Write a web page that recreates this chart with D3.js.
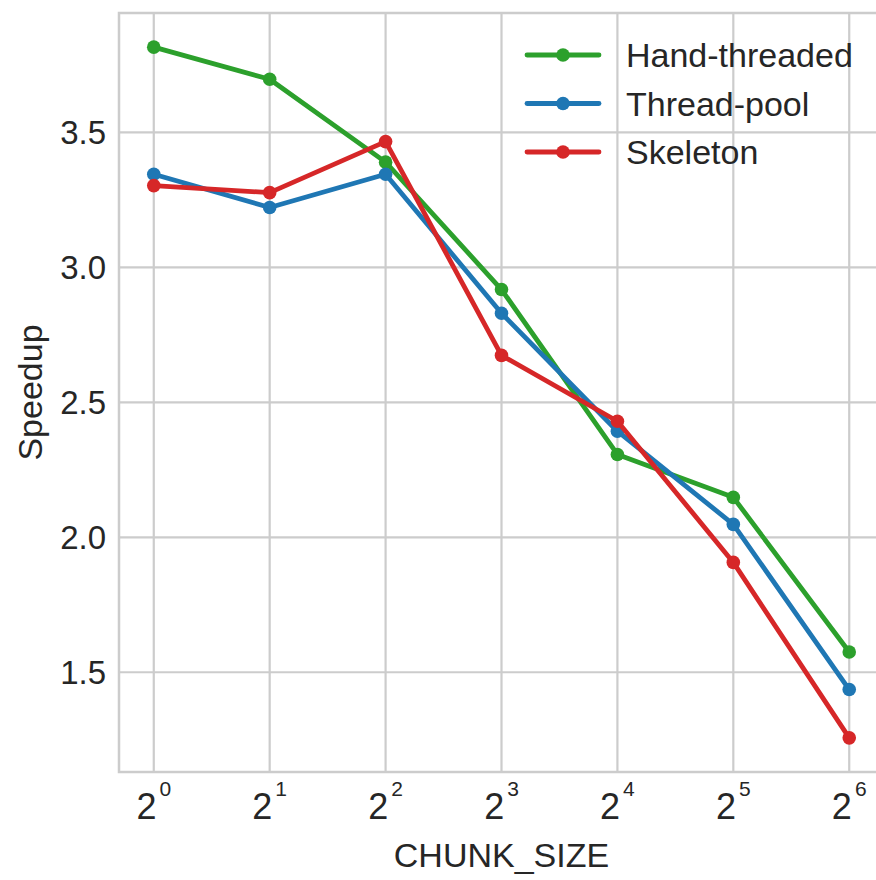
<!DOCTYPE html>
<html>
<head>
<meta charset="utf-8">
<script src="https://cdn.jsdelivr.net/npm/d3@7"></script>
<style>
  html, body { margin: 0; padding: 0; background: #fff; }
  svg { display: block; font-family: "Liberation Sans", Arial, sans-serif; }
</style>
</head>
<body>
<svg class="chart" width="876" height="880"></svg>
<script>
(function () {
    'use strict';

    // chunk sizes as powers of two
    var exponents = [0, 1, 2, 3, 4, 5, 6];
    var yTicks = [1.5, 2.0, 2.5, 3.0, 3.5];
    var handThreaded = [3.816, 3.697, 3.390, 2.918, 2.307, 2.148, 1.575];
    var threadPool = [3.345, 3.222, 3.345, 2.830, 2.393, 2.048, 1.436];
    var skeleton = [3.303, 3.277, 3.466, 2.674, 2.430, 1.907, 1.257];
    var seriesNames = ['Hand-threaded', 'Thread-pool', 'Skeleton'];
    var seriesColors = ['#2ca02c', '#1f77b4', '#d62728'];

    var series = [handThreaded, threadPool, skeleton].map(function (vals, i) {
        return {name: seriesNames[i], color: seriesColors[i], values: vals};
    });

    var left = 119, right = 884, top = 13, bottom = 772, grid = '#cccccc';

    var x = d3.scaleLinear().domain([-0.3, 6.3]).range([left, right]);
    var y = d3.scaleLinear().domain([1.1305, 3.9425]).range([bottom, top]);

    var svg = d3.select('.chart');

    // grid
    svg.append('g').selectAll('line').data(exponents).enter().append('line')
        .attr('x1', function (d) { return x(d); })
        .attr('x2', function (d) { return x(d); })
        .attr('y1', top).attr('y2', bottom)
        .attr('stroke', grid).attr('stroke-width', 2.2);
    svg.append('g').selectAll('line').data(yTicks).enter().append('line')
        .attr('y1', function (d) { return y(d); })
        .attr('y2', function (d) { return y(d); })
        .attr('x1', left).attr('x2', right)
        .attr('stroke', grid).attr('stroke-width', 2.2);

    // spines
    svg.append('rect')
        .attr('x', left).attr('y', top)
        .attr('width', right - left).attr('height', bottom - top)
        .attr('fill', 'none').attr('stroke', grid).attr('stroke-width', 2.5);

    // x tick labels 2^n
    var xt = svg.append('g').selectAll('text').data(exponents).enter().append('text')
        .attr('x', function (d) { return x(d); })
        .attr('y', 819)
        .attr('text-anchor', 'middle')
        .attr('fill', '#262626')
        .style('font-size', '36px');
    xt.append('tspan').text('2');
    xt.append('tspan')
        .attr('dx', 3)
        .attr('dy', -23)
        .style('font-size', '21px')
        .text(function (d) { return d; });

    // y tick labels
    svg.append('g').selectAll('text').data(yTicks).enter().append('text')
        .attr('x', 106)
        .attr('y', function (d) { return y(d); })
        .attr('dy', '0.36em')
        .attr('text-anchor', 'end')
        .attr('fill', '#262626')
        .style('font-size', '33px')
        .text(function (d) { return d3.format('.1f')(d); });

    // axis labels
    svg.append('text')
        .attr('x', (left + right) / 2).attr('y', 867)
        .attr('text-anchor', 'middle')
        .attr('fill', '#262626')
        .style('font-size', '34px')
        .text('CHUNK_SIZE');
    svg.append('text')
        .attr('transform', 'translate(42,' + (top + bottom) / 2 + ') rotate(-90)')
        .attr('text-anchor', 'middle')
        .attr('fill', '#262626')
        .style('font-size', '34px')
        .text('Speedup');

    // lines
    var line = d3.line()
        .x(function (d, i) { return x(exponents[i]); })
        .y(function (d) { return y(d); });

    var groups = svg.append('g').selectAll('g').data(series).enter().append('g');
    groups.append('path')
        .attr('d', function (d) { return line(d.values); })
        .attr('fill', 'none')
        .attr('stroke', function (d) { return d.color; })
        .attr('stroke-width', 4.8)
        .attr('stroke-linejoin', 'round')
        .attr('stroke-linecap', 'round');
    groups.selectAll('circle').data(function (d) {
        return d.values.map(function (v, i) { return {v: v, i: i, color: d.color}; });
    }).enter().append('circle')
        .attr('cx', function (d) { return x(exponents[d.i]); })
        .attr('cy', function (d) { return y(d.v); })
        .attr('r', 6.8)
        .attr('fill', function (d) { return d.color; });

    // legend
    var legend = svg.append('g').selectAll('g').data(series).enter().append('g')
        .attr('transform', function (d, i) { return 'translate(0,' + (55 + i * 48.5) + ')'; });
    legend.append('line')
        .attr('x1', 527).attr('x2', 599)
        .attr('stroke', function (d) { return d.color; })
        .attr('stroke-width', 4.8)
        .attr('stroke-linecap', 'round');
    legend.append('circle')
        .attr('cx', 563).attr('r', 6.8)
        .attr('fill', function (d) { return d.color; });
    legend.append('text')
        .attr('x', 626).attr('dy', '0.36em')
        .attr('fill', '#262626')
        .style('font-size', '34px')
        .text(function (d) { return d.name; });
}());
</script>
</body>
</html>
